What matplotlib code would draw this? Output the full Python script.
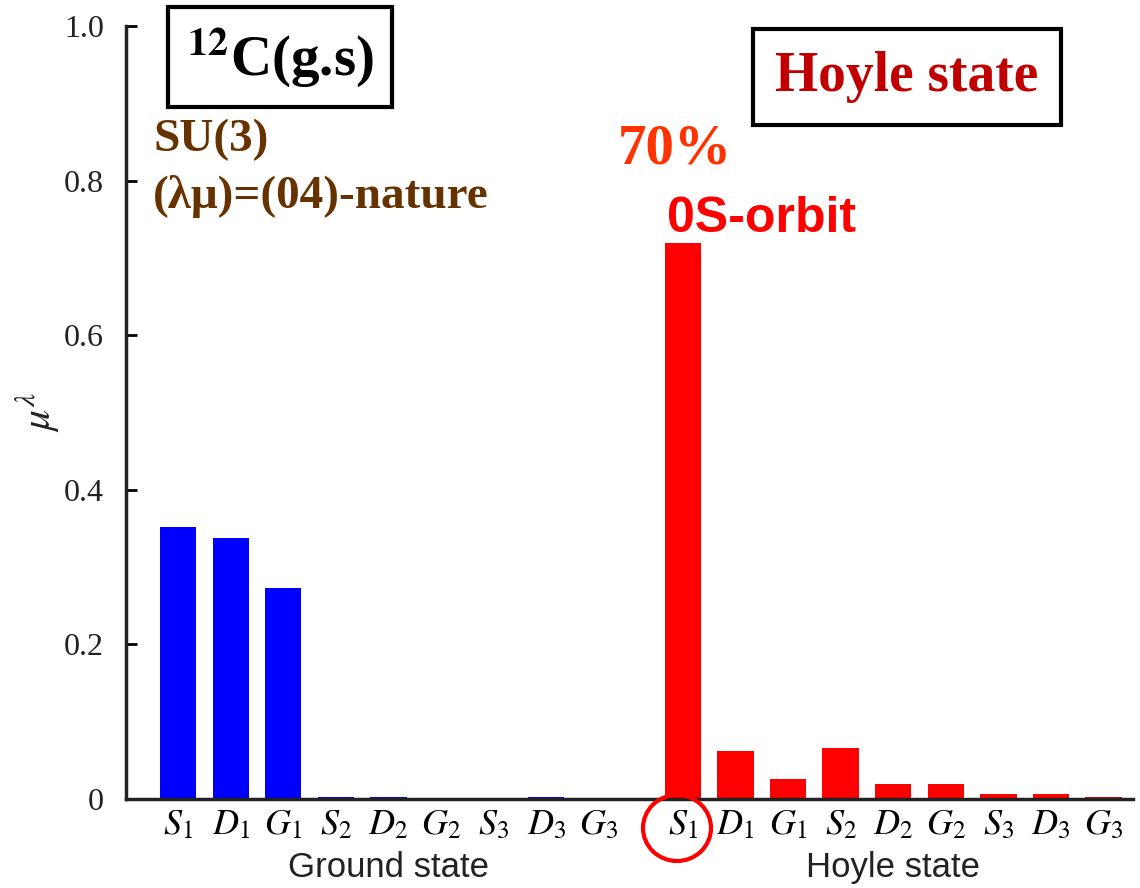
import numpy as np
import matplotlib
matplotlib.use("Agg")
import matplotlib.pyplot as plt
from matplotlib.patches import Ellipse

plt.rcParams["mathtext.fontset"] = "stix"

# ---------- occupation probabilities ----------
orbits = ["S_1", "D_1", "G_1", "S_2", "D_2", "G_2", "S_3", "D_3", "G_3"]
ground_vals = [0.352, 0.338, 0.273, 0.002, 0.002, 0.0, 0.0, 0.002, 0.0]
hoyle_vals = [0.719, 0.062, 0.026, 0.066, 0.019, 0.019, 0.006, 0.006, 0.003]
y_ticks = [0, 0.2, 0.4, 0.6, 0.8, 1.0]
y_labels = ["0", "0.2", "0.4", "0.6", "0.8", "1.0"]

x_ground = np.arange(len(orbits))
x_hoyle = x_ground + len(orbits) + 0.6

fig = plt.figure(figsize=(11.4, 8.88), dpi=100)
ax = fig.add_axes([126 / 1140, 1 - 799 / 888, (1133 - 126) / 1140, (799 - 26) / 888])

ax.bar(x_ground, ground_vals, width=0.69, color="#0000ff")
ax.bar(x_hoyle, hoyle_vals, width=0.69, color="#ff0000")

ax.set_xlim(-0.99, 18.16)
ax.set_ylim(0, 1.0)
ax.set_yticks(y_ticks)
ax.set_yticklabels(y_labels, family="Liberation Serif", fontsize=23, color="#222222")
ax.set_xticks(np.concatenate([x_ground, x_hoyle]))
ax.set_xticklabels(["$" + o + "$" for o in orbits] * 2, fontsize=26)
ax.tick_params(axis="y", direction="in", length=8, width=2, pad=16)
ax.tick_params(axis="x", length=0, pad=6)

for side in ["top", "right"]:
    ax.spines[side].set_visible(False)
for side in ["left", "bottom"]:
    ax.spines[side].set_linewidth(2.5)
    ax.spines[side].set_color("#222222")

# y-axis label
fig.text(38 / 1140, 1 - 412 / 888, r"$\mu^{\lambda}$", rotation=90, ha="center", va="center",
         fontsize=30, color="#222222")

# group captions under the orbit labels
ax.text(x_ground.mean(), -0.089, "Ground state", ha="center", va="center",
        family="Liberation Sans", fontsize=25, color="#222222", transform=ax.get_xaxis_transform())
ax.text(x_hoyle.mean(), -0.089, "Hoyle state", ha="center", va="center",
        family="Liberation Sans", fontsize=25, color="#222222", transform=ax.get_xaxis_transform())

# circle round the Hoyle S1 label
circ = Ellipse((677 / 1140, 1 - 828 / 888), 68 / 1140, 66 / 888, transform=fig.transFigure,
               fill=False, edgecolor="#ff0000", linewidth=3, clip_on=False)
fig.patches.append(circ)

# boxed titles
fig.text(280 / 1140, 1 - 57 / 888, r"$^{\mathbf{12}}$C(g.s)", ha="center", va="center",
         family="Liberation Serif", weight="bold", fontsize=41,
         bbox=dict(boxstyle="square,pad=0.32", facecolor="white", edgecolor="black", linewidth=3))
fig.text(907 / 1140, 1 - 77 / 888, "Hoyle state", ha="center", va="center",
         family="Liberation Serif", weight="bold", fontsize=40, color="#c00000",
         bbox=dict(boxstyle="square,pad=0.4", facecolor="white", edgecolor="black", linewidth=3))

fig.text(153 / 1140, 1 - 140 / 888, "SU(3)", ha="left", va="center",
         family="Liberation Serif", weight="bold", fontsize=34, color="#663300")
fig.text(153 / 1140, 1 - 196 / 888, "(λμ)=(04)-nature", ha="left", va="center",
         family="Liberation Serif", weight="bold", fontsize=34, color="#663300")

fig.text(618 / 1140, 1 - 149 / 888, "70%", ha="left", va="center",
         family="Liberation Serif", weight="bold", fontsize=41, color="#ff3300")
fig.text(667 / 1140, 1 - 219 / 888, "0S-orbit", ha="left", va="center",
         family="Liberation Sans", weight="bold", fontsize=36, color="#ff0000")

fig.savefig("out.png", dpi=100)
